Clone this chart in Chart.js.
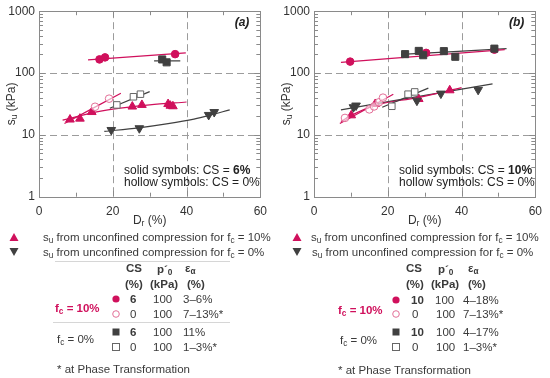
<!DOCTYPE html>
<html>
<head>
<meta charset="utf-8">
<script src="https://cdn.jsdelivr.net/npm/chart.js@4/dist/chart.umd.min.js"></script>
<style>
  body { margin: 0; background: #fff; }
  #wrap { position: relative; width: 550px; height: 378px; overflow: hidden;
          font-family: "Liberation Sans", Arial, sans-serif; color: #3a3a3a; }
  canvas { position: absolute; top: 0; }
  .t { position: absolute; font-size: 11.5px; line-height: 14px; white-space: nowrap; }
  .b { font-weight: bold; }
  .pk { color: #d0105c; }
  sub { font-size: 0.72em; vertical-align: -2px; line-height: 0; }
  .sep { position: absolute; height: 1px; background: #d6d6d6; }
  svg.m { position: absolute; overflow: visible; }
</style>
</head>
<body>
<div id="wrap">
  <canvas id="chartA" width="275" height="232" style="left:0"></canvas>
  <canvas id="chartB" width="275" height="232" style="left:275px"></canvas>

  <!-- legend (a) -->
  <svg class="m" width="10" height="10" style="left:9px;top:232px"><polygon points="5,1 9.5,9 0.5,9" fill="#d0105c"/></svg>
  <div class="t" style="left:43px;top:230px">s<sub>u</sub> from unconfined compression for f<sub>c</sub> = 10%</div>
  <svg class="m" width="10" height="10" style="left:9px;top:247px"><polygon points="0.5,1 9.5,1 5,9" fill="#404040"/></svg>
  <div class="t" style="left:43px;top:245px">s<sub>u</sub> from unconfined compression for f<sub>c</sub> = 0%</div>
  <div class="sep" style="left:55px;top:261px;width:175px"></div>
  <div class="t b" style="left:126px;top:261px">CS</div>
  <div class="t b" style="left:125px;top:277px">(%)</div>
  <div class="t b" style="left:157px;top:262px">p&acute;<sub>0</sub></div>
  <div class="t b" style="left:150px;top:277px">(kPa)</div>
  <div class="t b" style="left:185px;top:261px">&epsilon;<sub>&alpha;</sub></div>
  <div class="t b" style="left:187px;top:277px">(%)</div>
  <div class="t b pk" style="left:55px;top:301px">f<sub>c</sub> = 10%</div>
  <svg class="m" width="8" height="8" style="left:112px;top:295px"><circle cx="4" cy="4" r="3.6" fill="#d0105c"/></svg>
  <div class="t b" style="left:130px;top:292px">6</div>
  <div class="t" style="left:153px;top:292px">100</div>
  <div class="t" style="left:183px;top:292px">3&ndash;6%</div>
  <svg class="m" width="8" height="8" style="left:112px;top:310px"><circle cx="4" cy="4" r="3.3" fill="#fff" stroke="#e26f97" stroke-width="1"/></svg>
  <div class="t" style="left:130px;top:307px">0</div>
  <div class="t" style="left:153px;top:307px">100</div>
  <div class="t" style="left:183px;top:307px">7&ndash;13%*</div>
  <div class="sep" style="left:53px;top:322px;width:177px"></div>
  <div class="t" style="left:57px;top:332px">f<sub>c</sub> = 0%</div>
  <svg class="m" width="8" height="8" style="left:112px;top:328px"><rect x="0.5" y="0.5" width="7" height="7" fill="#404040"/></svg>
  <div class="t b" style="left:130px;top:325px">6</div>
  <div class="t" style="left:153px;top:325px">100</div>
  <div class="t" style="left:183px;top:325px">11%</div>
  <svg class="m" width="8" height="8" style="left:112px;top:343px"><rect x="0.5" y="0.5" width="7" height="7" fill="#fff" stroke="#666" stroke-width="1"/></svg>
  <div class="t" style="left:130px;top:340px">0</div>
  <div class="t" style="left:153px;top:340px">100</div>
  <div class="t" style="left:183px;top:340px">1&ndash;3%*</div>
  <div class="t" style="left:57px;top:362px">* at Phase Transformation</div>

  <!-- legend (b) -->
  <svg class="m" width="10" height="10" style="left:292px;top:232px"><polygon points="5,1 9.5,9 0.5,9" fill="#d0105c"/></svg>
  <div class="t" style="left:311px;top:230px">s<sub>u</sub> from unconfined compression for f<sub>c</sub> = 10%</div>
  <svg class="m" width="10" height="10" style="left:292px;top:247px"><polygon points="0.5,1 9.5,1 5,9" fill="#404040"/></svg>
  <div class="t" style="left:312px;top:245px">s<sub>u</sub> from unconfined compression for f<sub>c</sub> = 0%</div>
  <div class="t b" style="left:406px;top:261px">CS</div>
  <div class="t b" style="left:406px;top:277px">(%)</div>
  <div class="t b" style="left:438px;top:262px">p&acute;<sub>0</sub></div>
  <div class="t b" style="left:431px;top:277px">(kPa)</div>
  <div class="t b" style="left:468px;top:261px">&epsilon;<sub>&alpha;</sub></div>
  <div class="t b" style="left:468px;top:277px">(%)</div>
  <div class="t b pk" style="left:338px;top:303px">f<sub>c</sub> = 10%</div>
  <svg class="m" width="8" height="8" style="left:392px;top:296px"><circle cx="4" cy="4" r="3.6" fill="#d0105c"/></svg>
  <div class="t b" style="left:411px;top:293px">10</div>
  <div class="t" style="left:435px;top:293px">100</div>
  <div class="t" style="left:463px;top:293px">4&ndash;18%</div>
  <svg class="m" width="8" height="8" style="left:392px;top:310px"><circle cx="4" cy="4" r="3.3" fill="#fff" stroke="#e26f97" stroke-width="1"/></svg>
  <div class="t" style="left:412px;top:307px">0</div>
  <div class="t" style="left:436px;top:307px">100</div>
  <div class="t" style="left:463px;top:307px">7&ndash;13%*</div>
  <div class="t" style="left:340px;top:333px">f<sub>c</sub> = 0%</div>
  <svg class="m" width="8" height="8" style="left:392px;top:328px"><rect x="0.5" y="0.5" width="7" height="7" fill="#404040"/></svg>
  <div class="t b" style="left:411px;top:325px">10</div>
  <div class="t" style="left:436px;top:325px">100</div>
  <div class="t" style="left:463px;top:325px">4&ndash;17%</div>
  <svg class="m" width="8" height="8" style="left:392px;top:343px"><rect x="0.5" y="0.5" width="7" height="7" fill="#fff" stroke="#666" stroke-width="1"/></svg>
  <div class="t" style="left:412px;top:340px">0</div>
  <div class="t" style="left:436px;top:340px">100</div>
  <div class="t" style="left:463px;top:340px">1&ndash;3%*</div>
  <div class="t" style="left:338px;top:363px">* at Phase Transformation</div>
</div>

<script>
/* globals Chart */

// axes
const xTicks = [0, 20, 40, 60];
const yTicks = [1, 10, 100, 1000];
const xGrid = [20, 40];
const yGrid = [10, 100];
const xMinor = [10, 30, 50];
const yMinor = [2, 3, 4, 5, 6, 7, 8, 9, 20, 30, 40, 50, 60, 70, 80, 90, 200, 300, 400, 500, 600, 700, 800, 900];

// panel (a): CS = 6%
const aSolidCircleX = [16.4, 17.9, 36.9];
const aSolidCircleY = [166, 179, 202];
const aHollowCircleX = [15.2, 19.0];
const aHollowCircleY = [28.5, 38.5];
const aSolidSquareX = [33.4, 34.6];
const aSolidSquareY = [166, 149];
const aHollowSquareX = [21.1, 25.6, 27.5];
const aHollowSquareY = [30.5, 41.3, 45.5];
const aUpX = [8.4, 11.1, 14.3, 25.3, 27.9, 35.0, 35.6, 36.3];
const aUpY = [17.7, 18.3, 23.4, 28.7, 30.5, 31.5, 29.6, 29.0];
const aDownX = [19.6, 27.2, 46.0, 47.5];
const aDownY = [12.0, 12.8, 21.0, 23.4];
// trend lines (a)
const aFitSolidCircleX = [13.3, 39.8];
const aFitSolidCircleY = [163, 212];
const aFitHollowCircleX = [6.9, 22.2];
const aFitHollowCircleY = [15.3, 47];
const aFitSolidSquareX = [31.2, 38.3];
const aFitSolidSquareY = [157, 157];
const aFitHollowSquareX = [19.2, 30.0];
const aFitHollowSquareY = [27, 50];
const aFitUpX = [6.4, 10, 14, 20, 30, 40];
const aFitUpY = [17.3, 19.5, 22.5, 26, 30.5, 34];
const aFitDownX = [17.7, 27, 35, 42, 46, 51.7];
const aFitDownY = [11.4, 13, 15.2, 18, 20.5, 25.4];

// panel (b): CS = 10%
const bSolidCircleX = [9.8, 30.4, 48.9];
const bSolidCircleY = [153, 212, 239];
const bHollowCircleX = [8.4, 15.0, 16.3, 17.6, 18.7];
const bHollowCircleY = [18.8, 25.8, 28.8, 33.6, 40];
const bSolidSquareX = [24.7, 28.4, 29.6, 35.2, 38.3, 48.9];
const bSolidSquareY = [202, 228, 194, 226, 183, 248];
const bHollowSquareX = [21.1, 25.5, 27.3];
const bHollowSquareY = [29, 45.5, 49.5];
const bUpX = [10.1, 16.6, 28.4, 36.8];
const bUpY = [20.7, 31.6, 38, 52.6];
const bDownX = [10.7, 11.4, 27.9, 34.4, 44.5];
const bDownY = [28, 29.8, 35.7, 46.5, 53.5];
// trend lines (b)
const bFitSolidCircleX = [7.3, 51.7];
const bFitSolidCircleY = [149, 239];
const bFitSolidSquareX = [23.6, 52.2];
const bFitSolidSquareY = [200, 248];
const bFitHollowCircleX = [7.0, 21.5];
const bFitHollowCircleY = [15.3, 45.5];
const bFitHollowSquareX = [18.5, 31];
const bFitHollowSquareY = [28, 57];
const bFitUpX = [7.3, 10, 16.6, 28, 40];
const bFitUpY = [16.5, 20.5, 30, 40, 58];
const bFitDownX = [7.3, 48.4];
const bFitDownY = [25.4, 67];

const PINK = "#d0105c";
const PINK_LIGHT = "#e26f97";
const DARK = "#404040";
const FONT = "'Liberation Sans', Arial, sans-serif";

function pts(xs, ys) {
    return xs.map((x, i) => ({ x: x, y: ys[i] }));
}

function marker(xs, ys, style, fill, stroke, r, rot) {
    return {
        data: pts(xs, ys),
        showLine: false,
        pointStyle: style,
        pointRadius: r,
        pointHoverRadius: r,
        pointBackgroundColor: fill,
        pointBorderColor: stroke,
        pointBorderWidth: 1,
        pointRotation: rot || 0,
        order: 1
    };
}

function fit(xs, ys, color) {
    return {
        data: pts(xs, ys),
        showLine: true,
        borderColor: color,
        borderWidth: 1.2,
        pointRadius: 0,
        cubicInterpolationMode: "monotone",
        fill: false,
        order: 2
    };
}

// draw text made of pieces (normal / sub / bold)
function richText(ctx, parts, x, y, align) {
    let w = 0;
    parts.forEach(p => {
        ctx.font = p.font;
        p.w = ctx.measureText(p.t).width;
        w += p.w;
    });
    let cx = align === "center" ? x - w / 2 : align === "right" ? x - w : x;
    ctx.textAlign = "left";
    ctx.textBaseline = "middle";
    parts.forEach(p => {
        ctx.font = p.font;
        ctx.fillText(p.t, cx, y + (p.dy || 0));
        cx += p.w;
    });
}

const framePlugin = {
    id: "frame",
    beforeDatasetsDraw(chart) {
        const { ctx, chartArea: a, scales } = chart;
        const x = scales.x, y = scales.y;
        ctx.save();
        ctx.lineWidth = 1;
        // dashed grid
        ctx.strokeStyle = "#9c9c9c";
        ctx.setLineDash([7, 4]);
        xGrid.forEach(v => {
            const px = Math.round(x.getPixelForValue(v)) + 0.5;
            ctx.beginPath(); ctx.moveTo(px, a.top); ctx.lineTo(px, a.bottom); ctx.stroke();
        });
        yGrid.forEach(v => {
            const py = Math.round(y.getPixelForValue(v)) + 0.5;
            ctx.beginPath(); ctx.moveTo(a.left, py); ctx.lineTo(a.right, py); ctx.stroke();
        });
        ctx.setLineDash([]);
        // frame
        ctx.strokeStyle = "#8a8a8a";
        ctx.strokeRect(Math.round(a.left) + 0.5, Math.round(a.top) + 0.5,
            Math.round(a.right) - Math.round(a.left), Math.round(a.bottom) - Math.round(a.top));
        // inside ticks
        const tick = (v, len, vert) => {
            if (vert) {
                const py = Math.round(y.getPixelForValue(v)) + 0.5;
                ctx.beginPath();
                ctx.moveTo(a.left, py); ctx.lineTo(a.left + len, py);
                ctx.moveTo(a.right, py); ctx.lineTo(a.right - len, py);
                ctx.stroke();
            } else {
                const px = Math.round(x.getPixelForValue(v)) + 0.5;
                ctx.beginPath();
                ctx.moveTo(px, a.bottom); ctx.lineTo(px, a.bottom - len);
                ctx.moveTo(px, a.top); ctx.lineTo(px, a.top + len);
                ctx.stroke();
            }
        };
        yTicks.forEach(v => tick(v, 6, true));
        yMinor.forEach(v => tick(v, 4, true));
        xTicks.forEach(v => tick(v, 6, false));
        xMinor.forEach(v => tick(v, 4, false));
        ctx.restore();
    },
    afterDraw(chart, args, opts) {
        const { ctx, chartArea: a } = chart;
        const n = "12px " + FONT, s = "8.5px " + FONT, bold = "bold 12px " + FONT;
        ctx.save();
        ctx.fillStyle = "#333";
        // axis titles
        richText(ctx, [{ t: "D", font: n }, { t: "r", font: s, dy: 3 }, { t: " (%)", font: n }],
            (a.left + a.right) / 2, 221, "center");
        ctx.save();
        ctx.translate(11.5, (a.top + a.bottom) / 2);
        ctx.rotate(-Math.PI / 2);
        richText(ctx, [{ t: "s", font: n }, { t: "u", font: s, dy: 3 }, { t: " (kPa)", font: n }], 0, 0, "center");
        ctx.restore();
        // panel label and notes
        ctx.fillStyle = "#222";
        richText(ctx, [{ t: opts.panel, font: "italic bold 12px " + FONT }], a.right - 11, 22.5, "right");
        richText(ctx, [{ t: "solid symbols: CS = ", font: n }, { t: opts.cs, font: bold }], a.left + 85, 170.5, "left");
        richText(ctx, [{ t: "hollow symbols: CS = 0%", font: n }], a.left + 85, 182.5, "left");
        ctx.restore();
    }
};

function makeChart(id, datasets, panel, cs) {
    return new Chart(document.getElementById(id), {
        type: "scatter",
        data: { datasets: datasets },
        plugins: [framePlugin],
        options: {
            responsive: false,
            animation: false,
            devicePixelRatio: 1,
            layout: { padding: { top: 6.7, right: 8.3, left: 0, bottom: 0 } },
            plugins: {
                legend: { display: false },
                tooltip: { enabled: false },
                frame: { panel: panel, cs: cs }
            },
            scales: {
                x: {
                    type: "linear", min: 0, max: 60,
                    afterBuildTicks: sc => { sc.ticks = xTicks.map(v => ({ value: v })); },
                    afterFit: sc => { sc.height = 35.3; },
                    grid: { display: false, drawTicks: false },
                    border: { display: false },
                    ticks: { color: "#333", padding: 8, maxRotation: 0, font: { family: FONT, size: 12 } }
                },
                y: {
                    type: "logarithmic", min: 1, max: 1000,
                    afterBuildTicks: sc => { sc.ticks = yTicks.map(v => ({ value: v })); },
                    afterFit: sc => { sc.width = 39; },
                    grid: { display: false, drawTicks: false },
                    border: { display: false },
                    ticks: { color: "#333", padding: 4, callback: v => String(v), font: { family: FONT, size: 12 } }
                }
            }
        }
    });
}

function main() {
    makeChart("chartA", [
        fit(aFitSolidCircleX, aFitSolidCircleY, PINK),
        fit(aFitHollowCircleX, aFitHollowCircleY, PINK),
        fit(aFitSolidSquareX, aFitSolidSquareY, DARK),
        fit(aFitHollowSquareX, aFitHollowSquareY, DARK),
        fit(aFitUpX, aFitUpY, PINK),
        fit(aFitDownX, aFitDownY, DARK),
        marker(aSolidCircleX, aSolidCircleY, "circle", PINK, PINK, 3.8),
        marker(aHollowCircleX, aHollowCircleY, "circle", "rgba(255,255,255,0.6)", PINK_LIGHT, 3.8),
        marker(aSolidSquareX, aSolidSquareY, "rect", DARK, DARK, 5),
        marker(aHollowSquareX, aHollowSquareY, "rect", "#fff", "#666", 4.6),
        marker(aUpX, aUpY, "triangle", PINK, PINK, 5),
        marker(aDownX, aDownY, "triangle", DARK, DARK, 5, 180)
    ], "(a)", "6%");

    makeChart("chartB", [
        fit(bFitSolidCircleX, bFitSolidCircleY, PINK),
        fit(bFitSolidSquareX, bFitSolidSquareY, DARK),
        fit(bFitHollowCircleX, bFitHollowCircleY, PINK),
        fit(bFitHollowSquareX, bFitHollowSquareY, DARK),
        fit(bFitUpX, bFitUpY, PINK),
        fit(bFitDownX, bFitDownY, DARK),
        marker(bSolidSquareX, bSolidSquareY, "rect", DARK, DARK, 5),
        marker(bSolidCircleX, bSolidCircleY, "circle", PINK, PINK, 3.8),
        marker(bHollowCircleX, bHollowCircleY, "circle", "rgba(255,255,255,0.6)", PINK_LIGHT, 3.8),
        marker(bHollowSquareX, bHollowSquareY, "rect", "#fff", "#666", 4.6),
        marker(bDownX, bDownY, "triangle", DARK, DARK, 5, 180),
        marker(bUpX, bUpY, "triangle", PINK, PINK, 5)
    ], "(b)", "10%");
}

document.addEventListener("DOMContentLoaded", main);
</script>
</body>
</html>
